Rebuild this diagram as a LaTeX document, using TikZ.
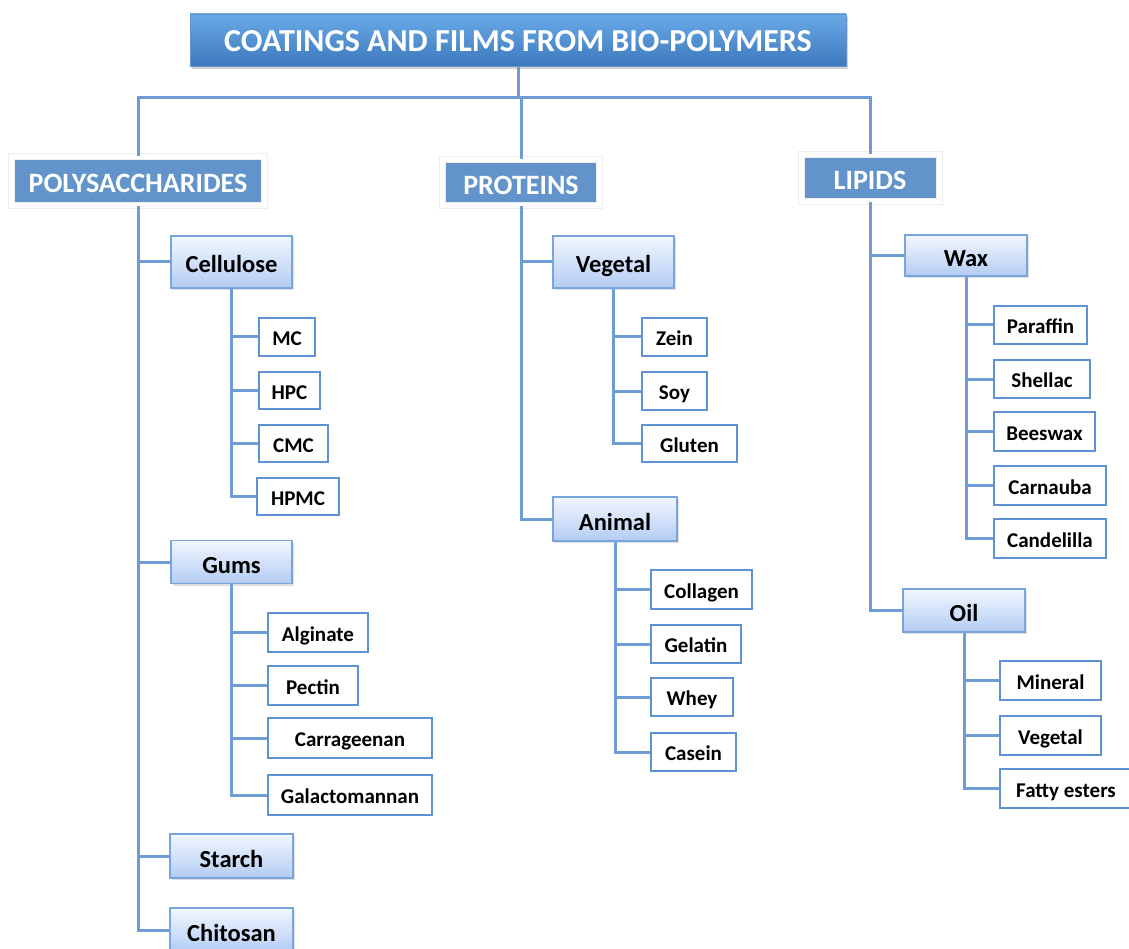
\documentclass[tikz,border=0pt]{standalone}
\usepackage{fontspec}
\setmainfont{Carlito}
\usetikzlibrary{shadows}
\definecolor{linec}{HTML}{6E9DD6}
\definecolor{catc}{HTML}{6294CB}
\definecolor{leafc}{HTML}{5E92D3}
\definecolor{subtop}{HTML}{F2F7FF}
\definecolor{subbot}{HTML}{B3CCF3}
\definecolor{subdraw}{HTML}{7AA5DC}
\definecolor{ttop}{HTML}{6AAAE8}
\definecolor{tbot}{HTML}{3D79BD}
\tikzset{
  conn/.style={draw=linec, line width=3pt},
  titlebox/.style={top color=ttop, bottom color=tbot, draw=tbot!80!white, line width=0.8pt,
    text=white, font=\fontsize{32}{36}\selectfont\bfseries, inner sep=0pt,
    text height=24pt, text depth=0pt,
    drop shadow={opacity=0.35, shadow xshift=2pt, shadow yshift=-3pt}},
  catbox/.style={fill=catc, draw=black!7, double=white, double distance=5pt, line width=1pt,
    text=white, font=\fontsize{28}{32}\selectfont\bfseries, inner sep=0pt,
    text height=24pt, text depth=0pt,
    drop shadow={opacity=0.2, shadow xshift=2pt, shadow yshift=-3pt}},
  subbox/.style={top color=subtop, bottom color=subbot, draw=subdraw, line width=1.5pt,
    font=\fontsize{24.5}{28}\selectfont\bfseries, inner sep=0pt,
    text height=22pt, text depth=0pt,
    drop shadow={opacity=0.25, shadow xshift=2pt, shadow yshift=-2pt}},
  leafbox/.style={fill=white, draw=leafc, line width=2.5pt,
    font=\fontsize{21}{24}\selectfont\bfseries, inner sep=0pt,
    text height=17.6pt, text depth=0pt}
}
\begin{document}
\begin{tikzpicture}[x=1pt,y=-1pt]
\useasboundingbox (0,0) rectangle (1129,949);
% title
\node[titlebox, minimum width=656pt, minimum height=52pt] (title) at (518,40) {COATINGS AND FILMS FROM BIO-POLYMERS};
% categories
\node[catbox, minimum width=253pt, minimum height=49pt] (poly) at (138,181) {POLYSACCHARIDES};
\node[catbox, minimum width=157pt, minimum height=46pt] (prot) at (521,182.5) {PROTEINS};
\node[catbox, minimum width=138pt, minimum height=47pt] (lip) at (870,178) {LIPIDS};
\coordinate (bus) at (518,98);
\draw[conn] (title.south) -- (bus);
\draw[conn] (poly.north) |- (bus) -| (lip.north);
\draw[conn] (prot.north) -- (prot.north |- bus);
% polysaccharides
\node[subbox, minimum width=121pt, minimum height=52pt] (cell) at (231.5,262) {Cellulose};
\node[subbox, minimum width=121pt, minimum height=43pt] (gums) at (231.5,562) {Gums};
\node[subbox, minimum width=123pt, minimum height=44pt] (starch) at (231.5,856) {Starch};
\node[subbox, minimum width=123pt, minimum height=44pt] (chit) at (231.5,930) {Chitosan};
\foreach \c in {cell,gums,starch,chit} \draw[conn] (poly.south) |- (\c.west);
\node[leafbox, minimum width=56pt, minimum height=38pt] (mc) at (287,337) {MC};
\node[leafbox, minimum width=61pt, minimum height=37pt] (hpc) at (289.5,390.5) {HPC};
\node[leafbox, minimum width=69pt, minimum height=37pt] (cmc) at (293.5,443.5) {CMC};
\node[leafbox, minimum width=82pt, minimum height=37pt] (hpmc) at (298,496.5) {HPMC};
\foreach \c in {mc,hpc,cmc,hpmc} \draw[conn] (cell.south) |- (\c.west);
\node[leafbox, minimum width=100pt, minimum height=39pt] (alg) at (318,632.5) {Alginate};
\node[leafbox, minimum width=90pt, minimum height=39pt] (pec) at (313,685.5) {Pectin};
\node[leafbox, minimum width=164pt, minimum height=40pt] (carr) at (350,738) {Carrageenan};
\node[leafbox, minimum width=164pt, minimum height=40pt] (gal) at (350,795) {Galactomannan};
\foreach \c in {alg,pec,carr,gal} \draw[conn] (gums.south) |- (\c.west);
% proteins
\node[subbox, minimum width=121pt, minimum height=52pt] (veg) at (613.5,262) {Vegetal};
\node[subbox, minimum width=124pt, minimum height=44pt] (anim) at (615,519) {Animal};
\foreach \c in {veg,anim} \draw[conn] (prot.south) |- (\c.west);
\node[leafbox, minimum width=65pt, minimum height=38pt] (zein) at (674.5,337) {Zein};
\node[leafbox, minimum width=65pt, minimum height=38pt] (soy) at (674.5,391) {Soy};
\node[leafbox, minimum width=95pt, minimum height=37pt] (glut) at (689.5,443.5) {Gluten};
\foreach \c in {zein,soy,glut} \draw[conn] (veg.south) |- (\c.west);
\node[leafbox, minimum width=101pt, minimum height=39pt] (coll) at (701.5,589.5) {Collagen};
\node[leafbox, minimum width=90pt, minimum height=38pt] (gel) at (696,644) {Gelatin};
\node[leafbox, minimum width=82pt, minimum height=38pt] (whey) at (692,697) {Whey};
\node[leafbox, minimum width=85pt, minimum height=38pt] (cas) at (693.5,752) {Casein};
\foreach \c in {coll,gel,whey,cas} \draw[conn] (anim.south) |- (\c.west);
% lipids
\node[subbox, minimum width=122pt, minimum height=41pt] (wax) at (966,255.5) {Wax};
\node[subbox, minimum width=122pt, minimum height=43pt] (oil) at (964,610.5) {Oil};
\foreach \c in {wax,oil} \draw[conn] (lip.south) |- (\c.west);
\node[leafbox, minimum width=93pt, minimum height=38pt] (par) at (1040.5,325) {Paraffin};
\node[leafbox, minimum width=96pt, minimum height=38pt] (shel) at (1042,379) {Shellac};
\node[leafbox, minimum width=101pt, minimum height=39pt] (bees) at (1044.5,431.5) {Beeswax};
\node[leafbox, minimum width=112pt, minimum height=39pt] (carn) at (1050,485.5) {Carnauba};
\node[leafbox, minimum width=112pt, minimum height=39pt] (cand) at (1050,538.5) {Candelilla};
\foreach \c in {par,shel,bees,carn,cand} \draw[conn] (wax.south) |- (\c.west);
\node[leafbox, minimum width=101pt, minimum height=39pt] (min) at (1050.5,680.5) {Mineral};
\node[leafbox, minimum width=101pt, minimum height=39pt] (oveg) at (1050.5,735.5) {Vegetal};
\node[leafbox, minimum width=132pt, minimum height=39pt] (fat) at (1066,788.5) {Fatty esters};
\foreach \c in {min,oveg,fat} \draw[conn] (oil.south) |- (\c.west);
\end{tikzpicture}
\end{document}
